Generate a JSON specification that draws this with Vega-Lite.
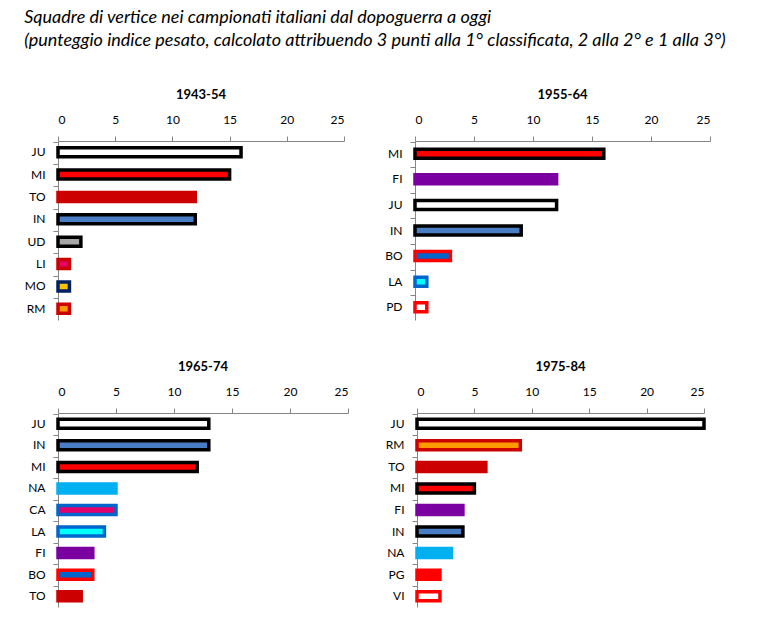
{
  "$schema": "https://vega.github.io/schema/vega-lite/v6.json",
  "background": "white",
  "padding": {"left": 24, "top": 9, "right": 5, "bottom": 5},
  "config": {
    "font": "Lato",
    "view": {"stroke": null},
    "axis": {"labelFont": "Lato", "labelFontSize": 12, "labelColor": "#000000", "domainColor": "#868686", "tickColor": "#868686", "grid": false, "title": null, "tickSize": 5},
    "title": {"font": "Lato", "fontSize": 13, "fontWeight": "bold", "color": "#000000", "offset": 11}
  },
  "title": {
    "text": ["Squadre di vertice nei campionati italiani dal dopoguerra a oggi", "(punteggio indice pesato, calcolato attribuendo 3 punti alla 1° classificata, 2 alla 2° e 1 alla 3°)"],
    "anchor": "start",
    "frame": "bounds",
    "fontStyle": "italic",
    "fontWeight": "normal",
    "fontSize": 18,
    "lineHeight": 23,
    "offset": 39,
    "color": "#000000"
  },
  "data": {"values": [
    {"period": "1943-54", "team": "JU", "value": 16},
    {"period": "1943-54", "team": "MI", "value": 15},
    {"period": "1943-54", "team": "TO", "value": 12},
    {"period": "1943-54", "team": "IN", "value": 12},
    {"period": "1943-54", "team": "UD", "value": 2},
    {"period": "1943-54", "team": "LI", "value": 1},
    {"period": "1943-54", "team": "MO", "value": 1},
    {"period": "1943-54", "team": "RM", "value": 1},
    {"period": "1955-64", "team": "MI", "value": 16},
    {"period": "1955-64", "team": "FI", "value": 12},
    {"period": "1955-64", "team": "JU", "value": 12},
    {"period": "1955-64", "team": "IN", "value": 9},
    {"period": "1955-64", "team": "BO", "value": 3},
    {"period": "1955-64", "team": "LA", "value": 1},
    {"period": "1955-64", "team": "PD", "value": 1},
    {"period": "1965-74", "team": "JU", "value": 13},
    {"period": "1965-74", "team": "IN", "value": 13},
    {"period": "1965-74", "team": "MI", "value": 12},
    {"period": "1965-74", "team": "NA", "value": 5},
    {"period": "1965-74", "team": "CA", "value": 5},
    {"period": "1965-74", "team": "LA", "value": 4},
    {"period": "1965-74", "team": "FI", "value": 3},
    {"period": "1965-74", "team": "BO", "value": 3},
    {"period": "1965-74", "team": "TO", "value": 2},
    {"period": "1975-84", "team": "JU", "value": 25},
    {"period": "1975-84", "team": "RM", "value": 9},
    {"period": "1975-84", "team": "TO", "value": 6},
    {"period": "1975-84", "team": "MI", "value": 5},
    {"period": "1975-84", "team": "FI", "value": 4},
    {"period": "1975-84", "team": "IN", "value": 4},
    {"period": "1975-84", "team": "NA", "value": 3},
    {"period": "1975-84", "team": "PG", "value": 2},
    {"period": "1975-84", "team": "VI", "value": 2}
  ]},
  "spacing": 41,
  "vconcat": [
    {
      "spacing": 39,
      "hconcat": [
        {
          "title": "1943-54",
          "width": 286, "height": 179,
          "transform": [{"filter": "datum.period === '1943-54'"}],
          "mark": {"type": "bar", "size": 9, "strokeWidth": 3.5},
          "encoding": {
            "y": {"field": "team", "type": "nominal", "sort": null, "axis": {"bandPosition": 0, "labelPadding": 8}},
            "x": {"field": "value", "type": "quantitative", "scale": {"domain": [0, 25]}, "axis": {"orient": "top", "values": [0, 5, 10, 15, 20, 25], "labelPadding": 10}},
            "fill": {"field": "team", "type": "nominal", "legend": null, "scale": {"domain": ["JU", "MI", "TO", "IN", "UD", "LI", "MO", "RM", "FI", "BO", "LA", "PD", "NA", "CA", "PG", "VI"], "range": ["#FFFFFF", "#FF0000", "#CC0000", "#4A7EC4", "#A6A6A6", "#E0006A", "#FFC000", "#FF9900", "#7A00A0", "#0066CC", "#00FFFF", "#FFFFFF", "#00B0F0", "#E0006E", "#FF0000", "#FFFFFF"]}},
            "stroke": {"field": "team", "type": "nominal", "legend": null, "scale": {"domain": ["JU", "MI", "TO", "IN", "UD", "LI", "MO", "RM", "FI", "BO", "LA", "PD", "NA", "CA", "PG", "VI"], "range": ["#000000", "#000000", "#CC0000", "#000000", "#000000", "#CC0000", "#002060", "#CC0000", "#7A00A0", "#FF0000", "#0066CC", "#FF0000", "#00B0F0", "#0066CC", "#FF0000", "#FF0000"]}}
          }
        },
        {
          "title": "1955-64",
          "width": 295, "height": 179,
          "transform": [{"filter": "datum.period === '1955-64'"}],
          "mark": {"type": "bar", "size": 9, "strokeWidth": 3.5},
          "encoding": {
            "y": {"field": "team", "type": "nominal", "sort": null, "axis": {"bandPosition": 0, "labelPadding": 8}},
            "x": {"field": "value", "type": "quantitative", "scale": {"domain": [0, 25]}, "axis": {"orient": "top", "values": [0, 5, 10, 15, 20, 25], "labelPadding": 10}},
            "fill": {"field": "team", "type": "nominal", "legend": null},
            "stroke": {"field": "team", "type": "nominal", "legend": null}
          }
        }
      ]
    },
    {
      "spacing": 36,
      "hconcat": [
        {
          "title": "1965-74",
          "width": 290, "height": 194,
          "transform": [{"filter": "datum.period === '1965-74'"}],
          "mark": {"type": "bar", "size": 9, "strokeWidth": 3.5},
          "encoding": {
            "y": {"field": "team", "type": "nominal", "sort": null, "axis": {"bandPosition": 0, "labelPadding": 8}},
            "x": {"field": "value", "type": "quantitative", "scale": {"domain": [0, 25]}, "axis": {"orient": "top", "values": [0, 5, 10, 15, 20, 25], "labelPadding": 10}},
            "fill": {"field": "team", "type": "nominal", "legend": null},
            "stroke": {"field": "team", "type": "nominal", "legend": null}
          }
        },
        {
          "title": "1975-84",
          "width": 287, "height": 194,
          "transform": [{"filter": "datum.period === '1975-84'"}],
          "mark": {"type": "bar", "size": 9, "strokeWidth": 3.5},
          "encoding": {
            "y": {"field": "team", "type": "nominal", "sort": null, "axis": {"bandPosition": 0, "labelPadding": 8}},
            "x": {"field": "value", "type": "quantitative", "scale": {"domain": [0, 25]}, "axis": {"orient": "top", "values": [0, 5, 10, 15, 20, 25], "labelPadding": 10}},
            "fill": {"field": "team", "type": "nominal", "legend": null},
            "stroke": {"field": "team", "type": "nominal", "legend": null}
          }
        }
      ]
    }
  ]
}
